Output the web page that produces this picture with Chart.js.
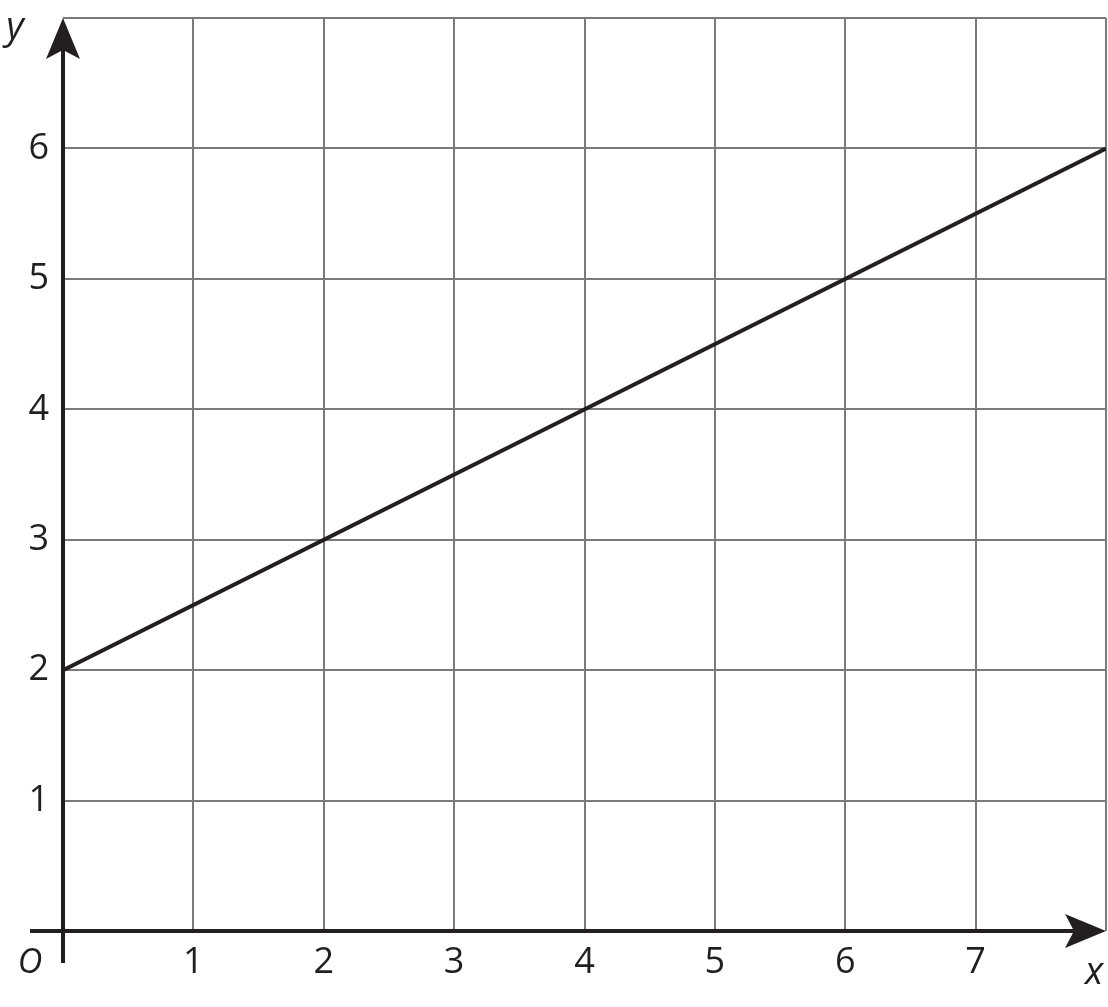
<!DOCTYPE html>
<html>
<head>
<meta charset="utf-8">
<script src="https://cdn.jsdelivr.net/npm/chart.js@4"></script>
<style>
  html, body { margin: 0; padding: 0; background: #fff; }
  #wrap { width: 1108px; height: 1007px; }
</style>
</head>
<body>
<div id="wrap"><canvas id="chart"></canvas></div>
<script>
// datos de la recta
const lineX = [0, 8];
const lineY = [2, 6];
const xTickLabels = ['1', '2', '3', '4', '5', '6', '7'];
const yTickLabels = ['1', '2', '3', '4', '5', '6'];
const xMax = 8;
const yMax = 7;

const INK = '#231f20';
const GRID = '#7a7a7a';
const FONT = '"Open Sans", sans-serif';

// ejes con flechas, etiquetas x / y y el origen
const axesPlugin = {
  id: 'axes',
  afterDatasetsDraw(chart) {
    const ctx = chart.ctx;
    const xs = chart.scales.x;
    const ys = chart.scales.y;
    const x0 = xs.getPixelForValue(0);
    const y0 = ys.getPixelForValue(0);
    const xEnd = xs.getPixelForValue(xMax);
    const yEnd = ys.getPixelForValue(yMax);

    ctx.save();
    ctx.strokeStyle = INK;
    ctx.fillStyle = INK;
    ctx.lineWidth = 4;
    ctx.lineCap = 'butt';

    // eje x
    ctx.beginPath();
    ctx.moveTo(30, y0);
    ctx.lineTo(xEnd - 30, y0);
    ctx.stroke();
    // eje y
    ctx.beginPath();
    ctx.moveTo(x0, y0 + 32);
    ctx.lineTo(x0, yEnd + 30);
    ctx.stroke();

    // flecha x
    ctx.beginPath();
    ctx.moveTo(xEnd, y0);
    ctx.lineTo(xEnd - 41, y0 - 17);
    ctx.lineTo(xEnd - 32, y0);
    ctx.lineTo(xEnd - 41, y0 + 17);
    ctx.closePath();
    ctx.fill();
    // flecha y
    ctx.beginPath();
    ctx.moveTo(x0, yEnd);
    ctx.lineTo(x0 - 17, yEnd + 41);
    ctx.lineTo(x0, yEnd + 32);
    ctx.lineTo(x0 + 17, yEnd + 41);
    ctx.closePath();
    ctx.fill();

    // nombres de los ejes
    ctx.font = 'italic 38px ' + FONT;
    ctx.textAlign = 'center';
    ctx.textBaseline = 'middle';
    ctx.fillText('y', 15, 28);
    ctx.fillText('x', 1094, 973);

    // origen
    ctx.font = 'italic 34px ' + FONT;
    ctx.fillText('O', 30, 963);
    ctx.restore();
  }
};

const ctx = document.getElementById('chart').getContext('2d');
new Chart(ctx, {
  type: 'scatter',
  data: {
    datasets: [{
      data: lineX.map((x, i) => ({ x: x, y: lineY[i] })),
      showLine: true,
      borderColor: INK,
      borderWidth: 4,
      pointRadius: 0,
      fill: false
    }]
  },
  options: {
    responsive: true,
    maintainAspectRatio: false,
    animation: false,
    layout: { padding: { top: 18, right: 2, left: 0, bottom: 0 } },
    plugins: {
      legend: { display: false },
      tooltip: { enabled: false }
    },
    scales: {
      x: {
        type: 'linear',
        min: 0,
        max: xMax,
        afterFit(scale) {
          scale.height = 76;
          scale.paddingLeft = 0;
          scale.paddingRight = 0;
        },
        afterBuildTicks(scale) {
          scale.ticks = Array.from({ length: xMax + 1 }, (_, i) => ({ value: i }));
        },
        ticks: {
          autoSkip: false,
          maxRotation: 0,
          padding: 10,
          color: INK,
          font: { family: FONT, size: 36 },
          callback: v => xTickLabels.includes(String(v)) ? String(v) : ''
        },
        grid: {
          color: ctx2 => ctx2.tick && ctx2.tick.value === 0 ? 'rgba(0,0,0,0)' : GRID,
          lineWidth: 2,
          drawTicks: false
        },
        border: { display: false }
      },
      y: {
        type: 'linear',
        min: 0,
        max: yMax,
        afterFit(scale) {
          scale.width = 63;
          scale.paddingTop = 0;
          scale.paddingBottom = 0;
        },
        afterBuildTicks(scale) {
          scale.ticks = Array.from({ length: yMax + 1 }, (_, i) => ({ value: i }));
        },
        ticks: {
          autoSkip: false,
          padding: 14,
          color: INK,
          font: { family: FONT, size: 36 },
          callback: v => yTickLabels.includes(String(v)) ? String(v) : ''
        },
        grid: {
          color: ctx2 => ctx2.tick && ctx2.tick.value === 0 ? 'rgba(0,0,0,0)' : GRID,
          lineWidth: 2,
          drawTicks: false
        },
        border: { display: false }
      }
    }
  },
  plugins: [axesPlugin]
});
</script>
</body>
</html>
